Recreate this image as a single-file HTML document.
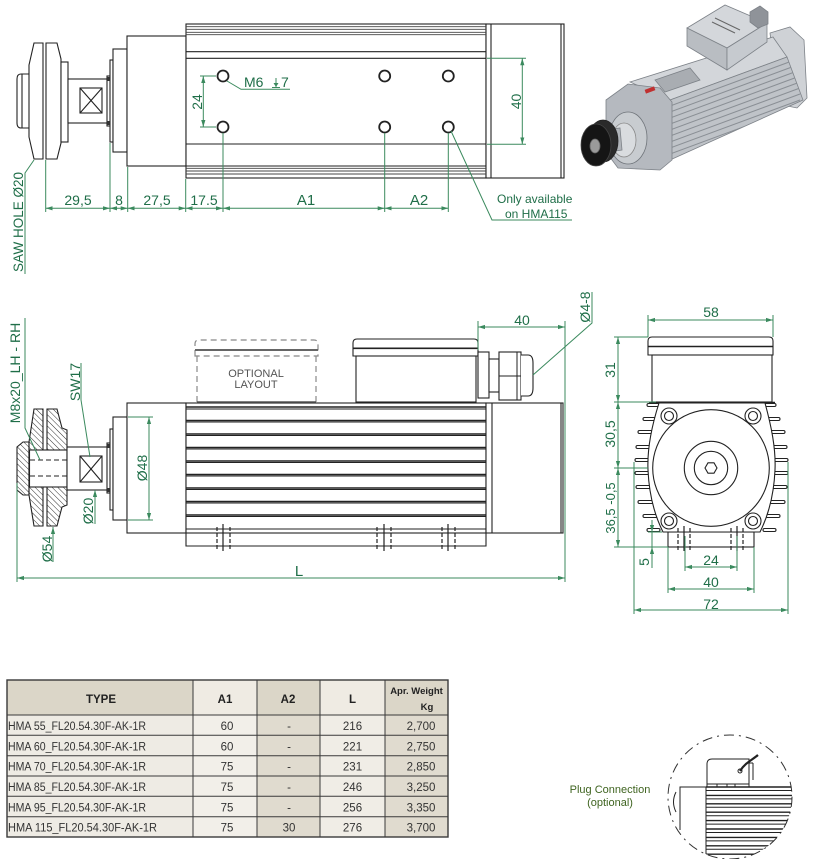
<!DOCTYPE html>
<html><head><meta charset="utf-8"><style>
html,body{margin:0;padding:0;background:#fff;}
svg{display:block;}
</style></head><body>
<svg width="814" height="859" viewBox="0 0 814 859" xmlns="http://www.w3.org/2000/svg" font-family="Liberation Sans, Arial, sans-serif">
<defs>
<marker id="ar" viewBox="0 0 10 10" refX="10" refY="5" markerWidth="7" markerHeight="7" markerUnits="userSpaceOnUse" orient="auto-start-reverse"><path d="M0,2 L10,5 L0,8 z" fill="#3b8a5e"/></marker>
<pattern id="hatch" width="4" height="4" patternUnits="userSpaceOnUse" patternTransform="rotate(-45)"><line x1="0" y1="0" x2="0" y2="4" stroke="#333" stroke-width="1"/></pattern>
<clipPath id="pc"><circle cx="730" cy="797" r="62"/></clipPath>
<clipPath id="side"><polygon points="670,100 787,57 803,100 670,160"/></clipPath>
</defs>
<rect width="814" height="859" fill="#fff"/>

<!-- ============ TOP VIEW ============ -->
<g stroke="#222" stroke-width="1.1" fill="#fff">
 <path d="M29,74 L21,74 Q17,74 17,79 L17,123 Q17,128 21,128 L29,128" fill="none"/>
 <line x1="22" y1="74" x2="22" y2="128"/>
 <polygon points="34,43 43,43 43,159 34,159 29,137 29,65"/>
 <polygon points="46,43 57,43 61,59 61,143 57,159 46,159"/>
 <rect x="61" y="62" width="7" height="80"/>
 <rect x="68" y="79" width="40" height="44"/>
 <rect x="80" y="88" width="22" height="25"/>
 <line x1="80" y1="88" x2="102" y2="113"/><line x1="102" y1="88" x2="80" y2="113"/>
 <rect x="107" y="76" width="4" height="50"/>
 <rect x="110" y="60" width="3" height="82"/>
 <rect x="113" y="49" width="14" height="103"/>
 <rect x="127" y="36" width="59" height="130"/>
 <rect x="186" y="24" width="300" height="154"/>
 <rect x="486" y="24" width="78" height="154"/>
 <line x1="491" y1="24" x2="491" y2="178"/>
 <line x1="561" y1="24" x2="561" y2="178"/>
</g>
<rect x="107" y="77" width="3" height="4" fill="#333"/><rect x="107" y="121" width="3" height="4" fill="#333"/>
<g stroke="#444" stroke-width="0.9">
 <line x1="186" y1="26.7" x2="486" y2="26.7"/>
 <line x1="186" y1="29.3" x2="486" y2="29.3"/>
 <line x1="186" y1="32.3" x2="486" y2="32.3"/>
 <line x1="186" y1="34.7" x2="486" y2="34.7"/>
 <line x1="186" y1="51.7" x2="486" y2="51.7" stroke="#222" stroke-width="1.1"/>
 <line x1="186" y1="58.3" x2="486" y2="58.3" stroke="#222" stroke-width="1.1"/>
 <line x1="186" y1="144" x2="486" y2="144" stroke="#222" stroke-width="1.1"/>
 <line x1="186" y1="166" x2="486" y2="166" stroke="#222" stroke-width="1.1"/>
 <line x1="186" y1="168.3" x2="486" y2="168.3"/>
 <line x1="186" y1="171" x2="486" y2="171"/>
 <line x1="186" y1="174" x2="486" y2="174"/>
</g>
<g stroke="#222" stroke-width="1.8" fill="#fff">
 <circle cx="223" cy="76" r="5.5"/><circle cx="384.7" cy="76" r="5.5"/><circle cx="448.3" cy="76" r="5.5"/>
 <circle cx="223" cy="127" r="5.5"/><circle cx="384.7" cy="127" r="5.5"/><circle cx="448.3" cy="127" r="5.5"/>
</g>
<!-- top dims -->
<g stroke="#3b8a5e" stroke-width="1" fill="none">
 <line x1="45.7" y1="160" x2="45.7" y2="212"/>
 <line x1="110" y1="143" x2="110" y2="212"/>
 <line x1="127.7" y1="167" x2="127.7" y2="212"/>
 <line x1="185.7" y1="179" x2="185.7" y2="212"/>
 <line x1="223" y1="133" x2="223" y2="212"/>
 <line x1="384.7" y1="133" x2="384.7" y2="212"/>
 <line x1="448.3" y1="133" x2="448.3" y2="212"/>
 <line x1="45.7" y1="208.3" x2="110" y2="208.3" marker-start="url(#ar)" marker-end="url(#ar)"/>
 <line x1="110" y1="208.3" x2="127.7" y2="208.3" marker-start="url(#ar)" marker-end="url(#ar)"/>
 <line x1="127.7" y1="208.3" x2="185.7" y2="208.3" marker-start="url(#ar)" marker-end="url(#ar)"/>
 <line x1="185.7" y1="208.3" x2="223" y2="208.3" marker-start="url(#ar)" marker-end="url(#ar)"/>
 <line x1="223" y1="208.3" x2="384.7" y2="208.3" marker-start="url(#ar)" marker-end="url(#ar)"/>
 <line x1="384.7" y1="208.3" x2="448.3" y2="208.3" marker-start="url(#ar)" marker-end="url(#ar)"/>
 <line x1="200" y1="76" x2="216" y2="76"/><line x1="200" y1="127" x2="216" y2="127"/>
 <line x1="203.3" y1="76" x2="203.3" y2="127" marker-start="url(#ar)" marker-end="url(#ar)"/>
 <polyline points="227,81 241,89.3 290,89.3"/>
 <line x1="487" y1="58.3" x2="526" y2="58.3"/><line x1="487" y1="144.3" x2="526" y2="144.3"/>
 <line x1="522.3" y1="58.3" x2="522.3" y2="144.3" marker-start="url(#ar)" marker-end="url(#ar)"/>
 <polyline points="451,131 492,220 572,220"/>
 <polyline points="34,160 25,173 25,274"/>
 <line x1="276" y1="78" x2="276" y2="87"/><line x1="272" y1="87.5" x2="280" y2="87.5"/>
</g>
<path d="M273.5,83 L276,87 L278.5,83 z" fill="#3b8a5e"/>
<g fill="#1f6e48" font-size="14">
 <text x="78" y="205" text-anchor="middle">29,5</text>
 <text x="119" y="205" text-anchor="middle">8</text>
 <text x="157" y="205" text-anchor="middle">27,5</text>
 <text x="204" y="205" text-anchor="middle">17.5</text>
 <text x="306" y="205" text-anchor="middle" font-size="15">A1</text>
 <text x="419" y="205" text-anchor="middle" font-size="15">A2</text>
 <text x="244" y="87">M6</text>
 <text x="281" y="87">7</text>
 <text transform="translate(202,102) rotate(-90)" text-anchor="middle">24</text>
 <text transform="translate(521,101.5) rotate(-90)" text-anchor="middle">40</text>
 <text transform="translate(23,222) rotate(-90)" text-anchor="middle" font-size="13.5">SAW HOLE Ø20</text>
 <text x="497" y="203" font-size="12">Only available</text>
 <text x="505" y="218" font-size="12">on HMA115</text>
</g>

<!-- ============ PHOTO ============ -->
<g stroke="#7d8288" stroke-width="0.8">
 <polygon points="770,33 790,27 804,40 807,98 797,108 778,104" fill="#cfd2d6"/>
 <polygon points="630,82 773,37 787,57 670,100" fill="#d3d6da"/>
 <polygon points="670,100 787,57 803,100 670,160" fill="#bfc3c8"/>
 <g clip-path="url(#side)" stroke="#8a8f95" stroke-width="1">
  <line x1="670" y1="106" x2="800" y2="58"/><line x1="670" y1="112" x2="800" y2="64"/>
  <line x1="670" y1="118" x2="800" y2="70"/><line x1="670" y1="124" x2="800" y2="76"/>
  <line x1="670" y1="130" x2="800" y2="82"/><line x1="670" y1="136" x2="800" y2="88"/>
  <line x1="670" y1="142" x2="800" y2="94"/><line x1="670" y1="148" x2="800" y2="100"/>
  <line x1="670" y1="154" x2="800" y2="106"/><line x1="670" y1="160" x2="800" y2="112"/>
 </g>
 <polygon points="655,80 690,68 700,80 665,92" fill="#a9adb2"/>
 <polygon points="606,100 628,84 660,88 672,102 672,160 660,170 618,168 606,152" fill="#b5b9bf"/>
 <ellipse cx="628" cy="138" rx="19" ry="26" fill="#c8ccd0" stroke="#6f747a"/>
 <ellipse cx="624" cy="140" rx="12" ry="17" fill="#d9dcdf" stroke="#888"/>
 <polygon points="606,130 620,128 622,150 608,152" fill="#b0b4b9"/>
 <ellipse cx="603" cy="141" rx="15" ry="21" fill="#2a2a2a" stroke="#222"/>
 <ellipse cx="596" cy="145" rx="15" ry="21" fill="#151515" stroke="#444"/>
 <ellipse cx="595" cy="146" rx="5" ry="7" fill="#9a9a9a" stroke="#666"/>
 <polygon points="687,28 725,5 767,23 727,48" fill="#d4d7db"/>
 <polygon points="687,28 687,46 727,70 727,48" fill="#b9bdc2"/>
 <polygon points="727,48 767,23 767,42 727,70" fill="#c6cacf"/>
 <polygon points="750,12 760,6 768,12 768,24 758,28 750,22" fill="#8f9399"/>
</g>
<rect x="645" y="88" width="10" height="4" fill="#c03030" transform="rotate(-20 650 90)"/>
<g stroke="#666" stroke-width="1"><line x1="715" y1="18" x2="740" y2="30"/><line x1="712" y1="22" x2="735" y2="33"/></g>

<!-- ============ SIDE VIEW ============ -->
<g stroke="#222" stroke-width="1.1">
 <polygon points="34,409 43,409 43,526 34,526 29,495 29,442" fill="url(#hatch)"/>
 <polygon points="29,442 23,442 17,447 17,490 23,495 29,495" fill="url(#hatch)"/>
 <polygon points="47,409 57,409 62,428 67,430 67,505 62,507 57,526 47,526" fill="url(#hatch)"/>
 <rect x="29.5" y="450" width="37.5" height="37" fill="#fff"/>
</g>
<g stroke="#222" stroke-width="1.1" stroke-dasharray="5 3"><line x1="30" y1="460" x2="67" y2="460"/><line x1="30" y1="476" x2="67" y2="476"/></g>
<g stroke="#222" stroke-width="1.1" fill="#fff">
 <rect x="67" y="447" width="41" height="43"/>
 <rect x="80" y="456" width="22" height="26"/>
 <line x1="80" y1="456" x2="102" y2="482"/><line x1="102" y1="456" x2="80" y2="482"/>
 <rect x="107" y="443" width="4" height="50"/>
 <rect x="110" y="429" width="3" height="81"/>
 <rect x="113" y="417" width="14" height="103"/>
 <rect x="127" y="403" width="59" height="130"/>
 <rect x="186" y="403" width="300" height="130"/>
 <rect x="486" y="403" width="77" height="130"/>
 <line x1="492" y1="403" x2="492" y2="533"/>
 <line x1="561" y1="403" x2="561" y2="533"/>
 <polyline points="186,533 186,546 486,546 486,533" fill="none"/>
 <path d="M353,356 L353,343 Q353,339 357,339 L474,339 Q478,339 478,343 L478,356 Z"/>
 <rect x="356" y="356" width="120" height="46"/>
 <rect x="478" y="352" width="11" height="46"/>
 <rect x="489" y="359" width="10" height="33"/>
 <rect x="499" y="352" width="22" height="48"/>
 <path d="M521,355 L528,355 Q533,355 533,363 L533,388 Q533,396 528,396 L521,396"/>
</g>
<rect x="107" y="444" width="3" height="4" fill="#333"/><rect x="107" y="488" width="3" height="4" fill="#333"/>
<g stroke="#222" stroke-width="1">
 <line x1="353" y1="348.3" x2="478" y2="348.3" stroke-width="1.6"/>
 <line x1="499" y1="376" x2="521" y2="376"/><line x1="517" y1="352" x2="517" y2="400"/>
 <line x1="186" y1="407" x2="486" y2="407" stroke-width="1.4"/><line x1="186" y1="409" x2="486" y2="409"/>
 <line x1="186" y1="420.5" x2="486" y2="420.5" stroke-width="1.4"/><line x1="186" y1="422" x2="486" y2="422"/>
 <line x1="186" y1="434" x2="486" y2="434" stroke-width="1.4"/><line x1="186" y1="435.5" x2="486" y2="435.5"/>
 <line x1="186" y1="447.5" x2="486" y2="447.5" stroke-width="1.4"/><line x1="186" y1="449" x2="486" y2="449"/>
 <line x1="186" y1="461" x2="486" y2="461" stroke-width="1.4"/><line x1="186" y1="462.5" x2="486" y2="462.5"/>
 <line x1="186" y1="474.5" x2="486" y2="474.5" stroke-width="1.4"/><line x1="186" y1="476" x2="486" y2="476"/>
 <line x1="186" y1="488" x2="486" y2="488" stroke-width="1.4"/><line x1="186" y1="489.5" x2="486" y2="489.5"/>
 <line x1="186" y1="501.5" x2="486" y2="501.5" stroke-width="1.4"/><line x1="186" y1="503" x2="486" y2="503"/>
 <line x1="186" y1="515" x2="486" y2="515" stroke-width="1.4"/><line x1="186" y1="516.5" x2="486" y2="516.5"/>
 <line x1="186" y1="529" x2="486" y2="529"/>
</g>
<g stroke="#222" stroke-width="1.2">
 <g stroke-dasharray="4 2"><line x1="217" y1="527" x2="217" y2="549"/><line x1="230" y1="527" x2="230" y2="549"/>
 <line x1="377" y1="527" x2="377" y2="549"/><line x1="391" y1="527" x2="391" y2="549"/>
 <line x1="442" y1="527" x2="442" y2="549"/><line x1="455" y1="527" x2="455" y2="549"/></g>
 <line x1="223" y1="524" x2="223" y2="551"/><line x1="384" y1="524" x2="384" y2="551"/><line x1="448" y1="524" x2="448" y2="551"/>
</g>
<!-- optional layout -->
<g stroke="#888" stroke-width="1.2" fill="none" stroke-dasharray="6 4">
 <path d="M195,356 L195,344 Q195,340 199,340 L314,340 Q318,340 318,344 L318,356 Z"/>
 <line x1="197" y1="356" x2="197" y2="402"/><line x1="316" y1="356" x2="316" y2="402"/>
</g>
<line x1="195" y1="350" x2="318" y2="350" stroke="#666" stroke-width="2"/>
<line x1="197" y1="402" x2="316" y2="402" stroke="#555" stroke-width="1.5"/>
<g fill="#555" font-size="11" text-anchor="middle"><text x="256" y="377">OPTIONAL</text><text x="256" y="388">LAYOUT</text></g>
<!-- side dims -->
<g stroke="#3b8a5e" stroke-width="1" fill="none">
 <line x1="128" y1="417" x2="153" y2="417"/><line x1="128" y1="520" x2="153" y2="520"/>
 <line x1="149" y1="417" x2="149" y2="520" marker-start="url(#ar)" marker-end="url(#ar)"/>
 <line x1="478" y1="321" x2="478" y2="350"/><line x1="565" y1="321" x2="565" y2="582"/>
 <line x1="478" y1="327" x2="565" y2="327" marker-start="url(#ar)" marker-end="url(#ar)"/>
 <polyline points="533,375 592,323 592,292"/>
 <line x1="17" y1="483" x2="17" y2="582"/>
 <line x1="17" y1="578" x2="565" y2="578" marker-start="url(#ar)" marker-end="url(#ar)"/>
 <polyline points="25,318 25,428 40,460"/>
 <polyline points="81,363 81,400 90,457"/>
 <line x1="95" y1="490" x2="95" y2="524" marker-start="url(#ar)"/>
 <line x1="53" y1="527" x2="53" y2="562" marker-start="url(#ar)"/>
</g>
<g fill="#1f6e48" font-size="14">
 <text transform="translate(147,468) rotate(-90)" text-anchor="middle">Ø48</text>
 <text x="522" y="325" text-anchor="middle">40</text>
 <text transform="translate(590,307) rotate(-90)" text-anchor="middle">Ø4-8</text>
 <text x="299" y="576" text-anchor="middle" font-size="15">L</text>
 <text transform="translate(20,373) rotate(-90)" text-anchor="middle">M8x20_LH - RH</text>
 <text transform="translate(80,382) rotate(-90)" text-anchor="middle">SW17</text>
 <text transform="translate(93,511) rotate(-90)" text-anchor="middle">Ø20</text>
 <text transform="translate(52,549) rotate(-90)" text-anchor="middle">Ø54</text>
</g>

<!-- ============ END VIEW ============ -->
<g stroke="#222" stroke-width="1.1" fill="#fff">
 <rect x="647" y="403.5" width="13" height="3" rx="1.5"/><rect x="643" y="417.5" width="17" height="3" rx="1.5"/>
 <rect x="638" y="430.5" width="22" height="3" rx="1.5"/><rect x="636" y="445.5" width="24" height="3" rx="1.5"/>
 <rect x="635" y="458.5" width="25" height="3" rx="1.5"/><rect x="635" y="471.5" width="25" height="3" rx="1.5"/>
 <rect x="636" y="485.5" width="24" height="3" rx="1.5"/><rect x="638" y="500.5" width="22" height="3" rx="1.5"/>
 <rect x="643" y="514.5" width="17" height="3" rx="1.5"/><rect x="647" y="528.5" width="13" height="3" rx="1.5"/>
 <rect x="763" y="403.5" width="13" height="3" rx="1.5"/><rect x="763" y="417.5" width="17" height="3" rx="1.5"/>
 <rect x="763" y="430.5" width="22" height="3" rx="1.5"/><rect x="763" y="445.5" width="24" height="3" rx="1.5"/>
 <rect x="763" y="458.5" width="25" height="3" rx="1.5"/><rect x="763" y="471.5" width="25" height="3" rx="1.5"/>
 <rect x="763" y="485.5" width="24" height="3" rx="1.5"/><rect x="763" y="500.5" width="22" height="3" rx="1.5"/>
 <rect x="763" y="514.5" width="17" height="3" rx="1.5"/><rect x="763" y="528.5" width="13" height="3" rx="1.5"/>
 <rect x="668" y="532" width="86" height="15"/>
 <path d="M659,403 L765,403 C771,425 776,448 775,470 C774,493 769,514 760,532 L663,532 C654,514 649,493 648,470 C647,448 652,425 659,403 Z"/>
 <circle cx="711" cy="468" r="58.3"/>
 <circle cx="711" cy="468" r="26.7"/>
 <circle cx="711" cy="468" r="16.7"/>
 <polygon points="717,468 714,473.2 708,473.2 705,468 708,462.8 714,462.8"/>
 <circle cx="669" cy="416" r="8"/><circle cx="669" cy="416" r="4.5"/>
 <circle cx="753" cy="416" r="8"/><circle cx="753" cy="416" r="4.5"/>
 <circle cx="669" cy="521" r="8"/><circle cx="669" cy="521" r="4.5"/>
 <circle cx="753" cy="521" r="8"/><circle cx="753" cy="521" r="4.5"/>
 <path d="M648,355 L648,341 Q648,337 652,337 L769,337 Q773,337 773,341 L773,355 Z"/>
 <rect x="652" y="355" width="120" height="47"/>
 <line x1="649" y1="402.5" x2="775" y2="402.5" stroke-width="1.6"/>
 <line x1="648" y1="346.5" x2="773" y2="346.5" stroke-width="1.6"/>
</g>
<g stroke="#222" stroke-width="1.2">
 <g stroke-dasharray="4 2"><line x1="678" y1="528" x2="678" y2="550"/><line x1="690" y1="528" x2="690" y2="550"/>
 <line x1="731" y1="528" x2="731" y2="550"/><line x1="743" y1="528" x2="743" y2="550"/></g>
 <line x1="684" y1="526" x2="684" y2="551"/><line x1="737" y1="526" x2="737" y2="551"/>
</g>
<g stroke="#3b8a5e" stroke-width="1" fill="none">
 <line x1="648" y1="315" x2="648" y2="337"/><line x1="773" y1="315" x2="773" y2="337"/>
 <line x1="648" y1="320" x2="773" y2="320" marker-start="url(#ar)" marker-end="url(#ar)"/>
 <line x1="614" y1="337" x2="648" y2="337"/><line x1="614" y1="402" x2="656" y2="402"/>
 <line x1="614" y1="468" x2="648" y2="468"/><line x1="614" y1="547" x2="668" y2="547"/>
 <line x1="618" y1="337" x2="618" y2="402" marker-start="url(#ar)" marker-end="url(#ar)"/>
 <line x1="618" y1="402" x2="618" y2="468" marker-start="url(#ar)" marker-end="url(#ar)"/>
 <line x1="618" y1="468" x2="618" y2="547" marker-start="url(#ar)" marker-end="url(#ar)"/>
 <line x1="685" y1="536" x2="685" y2="571"/><line x1="737" y1="536" x2="737" y2="571"/>
 <line x1="685" y1="567" x2="737" y2="567" marker-start="url(#ar)" marker-end="url(#ar)"/>
 <line x1="668" y1="547" x2="668" y2="593"/><line x1="754" y1="547" x2="754" y2="593"/>
 <line x1="668" y1="589" x2="754" y2="589" marker-start="url(#ar)" marker-end="url(#ar)"/>
 <line x1="634" y1="462" x2="634" y2="614"/><line x1="788" y1="462" x2="788" y2="614"/>
 <line x1="634" y1="610" x2="788" y2="610" marker-start="url(#ar)" marker-end="url(#ar)"/>
 <line x1="648" y1="532" x2="662" y2="532"/>
 <line x1="652" y1="520" x2="652" y2="532" marker-end="url(#ar)"/>
 <line x1="652" y1="568" x2="652" y2="547" marker-end="url(#ar)"/>
 <line x1="652" y1="532" x2="652" y2="547"/>
</g>
<g fill="#1f6e48" font-size="14">
 <text x="711" y="317" text-anchor="middle">58</text>
 <text x="711" y="565" text-anchor="middle">24</text>
 <text x="711" y="587" text-anchor="middle">40</text>
 <text x="711" y="609" text-anchor="middle">72</text>
 <text transform="translate(615,370) rotate(-90)" text-anchor="middle">31</text>
 <text transform="translate(615,434) rotate(-90)" text-anchor="middle">30,5</text>
 <text transform="translate(615,508) rotate(-90)" text-anchor="middle" font-size="13">36,5 -0,5</text>
 <text transform="translate(649,562) rotate(-90)" text-anchor="middle">5</text>
</g>

<!-- ============ TABLE ============ -->
<g stroke="none">
 <rect x="7" y="680" width="186" height="35" fill="#dbd6c8"/>
 <rect x="193" y="680" width="64" height="35" fill="#efebe3"/>
 <rect x="257" y="680" width="63" height="35" fill="#dbd6c8"/>
 <rect x="320" y="680" width="65" height="35" fill="#efebe3"/>
 <rect x="385" y="680" width="63" height="35" fill="#dbd6c8"/>
 <rect x="7" y="715" width="186" height="122" fill="#eeebe4"/>
 <rect x="193" y="715" width="64" height="122" fill="#f2efe9"/>
 <rect x="257" y="715" width="63" height="122" fill="#e0dbcf"/>
 <rect x="320" y="715" width="65" height="122" fill="#f0ede6"/>
 <rect x="385" y="715" width="63" height="122" fill="#e0dbcf"/>
</g>
<g stroke="#3a3a3a" stroke-width="1" fill="none">
 <rect x="7" y="680" width="441" height="157" stroke-width="1.4"/>
 <line x1="193" y1="680" x2="193" y2="837"/><line x1="257" y1="680" x2="257" y2="837"/>
 <line x1="320" y1="680" x2="320" y2="837"/><line x1="385" y1="680" x2="385" y2="837"/>
 <line x1="7" y1="715" x2="448" y2="715"/><line x1="7" y1="735.3" x2="448" y2="735.3"/>
 <line x1="7" y1="755.7" x2="448" y2="755.7"/><line x1="7" y1="776" x2="448" y2="776"/>
 <line x1="7" y1="796.3" x2="448" y2="796.3"/><line x1="7" y1="816.7" x2="448" y2="816.7"/>
</g>
<g fill="#222" font-weight="bold" text-anchor="middle">
 <text x="101" y="703" font-size="11.5">TYPE</text>
 <text x="225" y="703" font-size="11.5">A1</text>
 <text x="288" y="703" font-size="11.5">A2</text>
 <text x="352.5" y="703" font-size="11.5">L</text>
 <text x="416.5" y="694" font-size="9.5">Apr. Weight</text>
 <text x="427" y="710" font-size="9.5">Kg</text>
</g>
<g fill="#333" font-size="11.5">
 <text x="8" y="730" textLength="138" lengthAdjust="spacingAndGlyphs">HMA 55_FL20.54.30F-AK-1R</text>
 <text x="8" y="750.3" textLength="138" lengthAdjust="spacingAndGlyphs">HMA 60_FL20.54.30F-AK-1R</text>
 <text x="8" y="770.7" textLength="138" lengthAdjust="spacingAndGlyphs">HMA 70_FL20.54.30F-AK-1R</text>
 <text x="8" y="791" textLength="138" lengthAdjust="spacingAndGlyphs">HMA 85_FL20.54.30F-AK-1R</text>
 <text x="8" y="811.3" textLength="138" lengthAdjust="spacingAndGlyphs">HMA 95_FL20.54.30F-AK-1R</text>
 <text x="8" y="831.7" textLength="149" lengthAdjust="spacingAndGlyphs">HMA 115_FL20.54.30F-AK-1R</text>
 <g text-anchor="middle">
  <text x="227" y="730">60</text><text x="227" y="750.3">60</text><text x="227" y="770.7">75</text>
  <text x="227" y="791">75</text><text x="227" y="811.3">75</text><text x="227" y="831.7">75</text>
  <text x="289" y="730">-</text><text x="289" y="750.3">-</text><text x="289" y="770.7">-</text>
  <text x="289" y="791">-</text><text x="289" y="811.3">-</text><text x="289" y="831.7">30</text>
  <text x="352.5" y="730">216</text><text x="352.5" y="750.3">221</text><text x="352.5" y="770.7">231</text>
  <text x="352.5" y="791">246</text><text x="352.5" y="811.3">256</text><text x="352.5" y="831.7">276</text>
  <text x="421" y="730">2,700</text><text x="421" y="750.3">2,750</text><text x="421" y="770.7">2,850</text>
  <text x="421" y="791">3,250</text><text x="421" y="811.3">3,350</text><text x="421" y="831.7">3,700</text>
 </g>
</g>

<!-- ============ PLUG CONNECTION ============ -->
<g fill="#3f6420" font-size="11" text-anchor="middle">
 <text x="610" y="793">Plug Connection</text>
 <text x="610" y="806">(optional)</text>
</g>
<circle cx="730" cy="797" r="62" fill="none" stroke="#333" stroke-width="1" stroke-dasharray="10 5 2 5"/>
<g clip-path="url(#pc)" stroke="#222" stroke-width="1" fill="none">
 <line x1="706" y1="787" x2="800" y2="787" stroke-width="1.4"/><line x1="706" y1="790.5" x2="800" y2="790.5"/>
 <line x1="706" y1="795.4" x2="800" y2="795.4" stroke-width="1.4"/><line x1="706" y1="798.9" x2="800" y2="798.9"/>
 <line x1="706" y1="803.8" x2="800" y2="803.8" stroke-width="1.4"/><line x1="706" y1="807.3" x2="800" y2="807.3"/>
 <line x1="706" y1="812.2" x2="800" y2="812.2" stroke-width="1.4"/><line x1="706" y1="815.7" x2="800" y2="815.7"/>
 <line x1="706" y1="820.6" x2="800" y2="820.6" stroke-width="1.4"/><line x1="706" y1="824.1" x2="800" y2="824.1"/>
 <line x1="706" y1="829" x2="800" y2="829" stroke-width="1.4"/><line x1="706" y1="832.5" x2="800" y2="832.5"/>
 <line x1="706" y1="837.4" x2="800" y2="837.4" stroke-width="1.4"/><line x1="706" y1="840.9" x2="800" y2="840.9"/>
 <line x1="706" y1="845.8" x2="800" y2="845.8" stroke-width="1.4"/><line x1="706" y1="849.3" x2="800" y2="849.3"/>
 <line x1="706" y1="854.2" x2="800" y2="854.2" stroke-width="1.4"/>
 <line x1="706" y1="787" x2="706" y2="860"/>
 <polyline points="706,787 680,787 680,830"/>
 <path d="M676,792 Q671,802 676,812"/>
 <path d="M707,787 L707,764 Q707,759 712,759 L749,759 L749,787"/>
 <line x1="707" y1="784" x2="749" y2="784"/>
 <line x1="717" y1="784" x2="717" y2="787"/><line x1="727" y1="784" x2="727" y2="787"/><line x1="735" y1="784" x2="735" y2="787"/>
 <line x1="749" y1="763" x2="753" y2="763"/><line x1="753" y1="763" x2="753" y2="780"/>
 <path d="M740,771 C745,763 752,760 758,755" stroke-width="2.2"/>
 <circle cx="740" cy="771" r="2"/>
</g>
</svg>
</body></html>
